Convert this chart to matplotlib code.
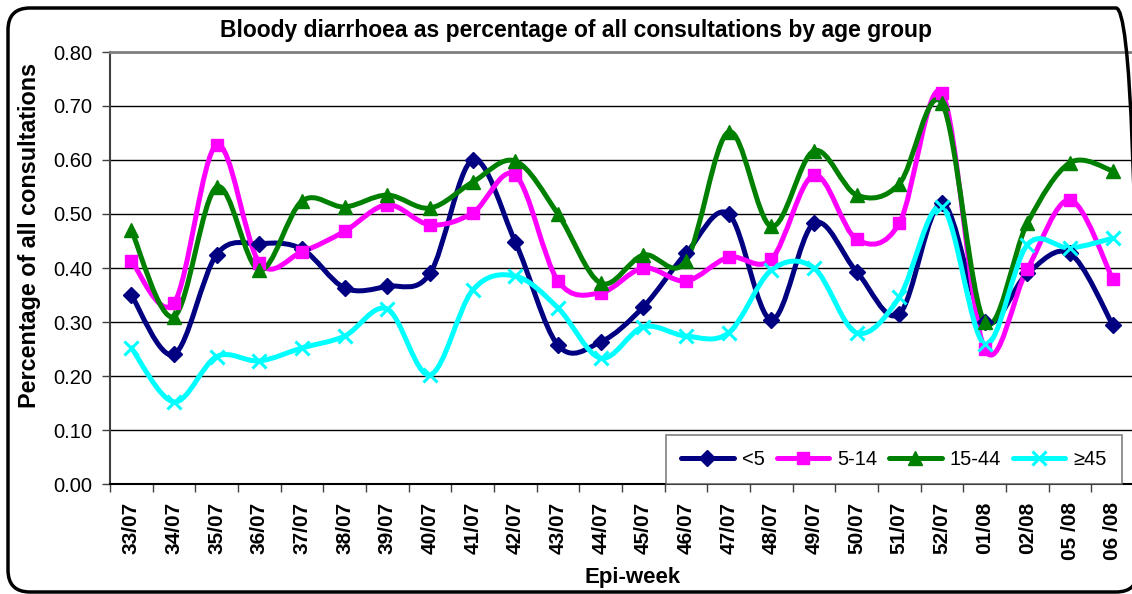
import matplotlib
matplotlib.use("Agg")
import matplotlib.pyplot as plt
from matplotlib.path import Path
from matplotlib.patches import PathPatch, FancyBboxPatch
from matplotlib.lines import Line2D
from matplotlib.transforms import IdentityTransform
from matplotlib.ticker import FixedLocator, MultipleLocator

weeks = ["33/07", "34/07", "35/07", "36/07", "37/07", "38/07", "39/07", "40/07",
         "41/07", "42/07", "43/07", "44/07", "45/07", "46/07", "47/07", "48/07",
         "49/07", "50/07", "51/07", "52/07", "01/08", "02/08", "05 /08", "06 /08"]

under5 = [0.35, 0.24, 0.425, 0.445, 0.435, 0.363, 0.366, 0.39, 0.60, 0.448, 0.257, 0.263,
          0.328, 0.427, 0.50, 0.304, 0.483, 0.393, 0.315, 0.52, 0.30, 0.39, 0.427, 0.295]
age5_14 = [0.413, 0.335, 0.628, 0.41, 0.43, 0.468, 0.517, 0.48, 0.502, 0.572, 0.376, 0.354,
           0.40, 0.376, 0.42, 0.416, 0.572, 0.453, 0.483, 0.724, 0.25, 0.398, 0.526, 0.38]
age15_44 = [0.47, 0.31, 0.55, 0.396, 0.524, 0.513, 0.535, 0.511, 0.559, 0.598, 0.50, 0.372,
            0.424, 0.413, 0.652, 0.477, 0.617, 0.535, 0.556, 0.705, 0.30, 0.483, 0.595, 0.58]
age45plus = [0.252, 0.152, 0.236, 0.228, 0.252, 0.274, 0.324, 0.202, 0.359, 0.385, 0.326, 0.233,
             0.291, 0.274, 0.28, 0.396, 0.40, 0.28, 0.346, 0.513, 0.259, 0.443, 0.437, 0.455]

series = [
    ("<5", under5, "#000080", "D", 8),
    ("5-14", age5_14, "#FF00FF", "s", 9),
    ("15-44", age15_44, "#008000", "^", 10),
    ("\u226545", age45plus, "#00FFFF", "x", 10),
]

plt.rcParams['font.family'] = ['Liberation Sans', 'DejaVu Sans']


def smooth_path(xs, ys):
    # Excel-style smoothed line: cubic Bezier through every point (Catmull-Rom tangents)
    pts = list(zip(xs, ys))
    n = len(pts)
    verts = [pts[0]]
    codes = [Path.MOVETO]
    for i in range(n - 1):
        p0 = pts[i - 1] if i > 0 else pts[i]
        p1 = pts[i]
        p2 = pts[i + 1]
        p3 = pts[i + 2] if i + 2 < n else pts[i + 1]
        c1 = (p1[0] + (p2[0] - p0[0]) / 6, p1[1] + (p2[1] - p0[1]) / 6)
        c2 = (p2[0] - (p3[0] - p1[0]) / 6, p2[1] - (p3[1] - p1[1]) / 6)
        verts += [c1, c2, p2]
        codes += [Path.CURVE4] * 3
    return Path(verts, codes)


W, H = 1132, 594
fig = plt.figure(figsize=(W / 100, H / 100), dpi=100, facecolor='white')
ax = fig.add_axes([110 / W, (H - 484) / H, 1024 / W, 432 / H])
ax.set_facecolor('white')

x = list(range(len(weeks)))
for name, vals, color, marker, ms in series:
    patch = PathPatch(smooth_path(x, vals), facecolor='none', edgecolor=color,
                      lw=3.6, capstyle='round', joinstyle='round', zorder=3)
    ax.add_patch(patch)
    mew = 2.2 if marker == 'x' else 1
    ax.plot(x, vals, linestyle='none', marker=marker, markersize=ms, color=color,
            markeredgewidth=mew, zorder=4)

ax.set_xlim(-0.5, len(weeks) - 0.5)
ax.set_ylim(0, 0.8)
ax.yaxis.set_major_locator(MultipleLocator(0.1))
ax.set_yticklabels([f"{v:.2f}" for v in ax.get_yticks()])
for v in ax.get_yticks()[1:-1]:
    ax.axhline(v, color='black', lw=1.0, zorder=1)

ax.set_xticks(x)
ax.set_xticklabels(weeks, rotation=90, fontweight='bold', fontsize=15)
ax.xaxis.set_minor_locator(FixedLocator([i - 0.5 for i in range(len(weeks) + 1)]))
ax.tick_params(axis='x', which='major', length=0, pad=13)
ax.tick_params(axis='x', which='minor', length=6, width=1, color='#404040')
ax.tick_params(axis='y', length=6, width=1, color='#404040', pad=7, labelsize=14.5)

for side in ['top', 'right']:
    ax.spines[side].set_color('#808080')
    ax.spines[side].set_linewidth(2)
ax.spines['left'].set_color('#404040')
ax.spines['left'].set_linewidth(1.5)
ax.spines['bottom'].set_color('black')
ax.spines['bottom'].set_linewidth(1.5)

fig.text(576 / W, 1 - 30 / H, "Bloody diarrhoea as percentage of all consultations by age group",
         ha='center', va='center', fontsize=16.5, fontweight='bold')
fig.text(30 / W, 1 - 235 / H, "Percentage of all consultations", rotation=90,
         ha='center', va='center', fontsize=16.8, fontweight='bold')
fig.text(633 / W, 1 - 577 / H, "Epi-week", ha='center', va='center',
         fontsize=16, fontweight='bold')

handles = [Line2D([], [], color=c, lw=3.6, marker=m, markersize=ms,
                  markeredgewidth=(2.2 if m == 'x' else 1), solid_capstyle='round')
           for _, _, c, m, ms in series]
leg = ax.legend(handles, [s[0] for s in series], loc='lower right',
                bbox_to_anchor=((1122 - 110) / 1024, 0), ncol=4, fontsize=14.5,
                handlelength=2.6, handletextpad=0.4, columnspacing=0.6,
                borderaxespad=0, frameon=True, fancybox=False, borderpad=0.75)
leg.get_frame().set_edgecolor('#606060')
leg.get_frame().set_linewidth(1.2)
leg.set_zorder(5)

border = FancyBboxPatch((8, 2), 1130, 584, boxstyle="round,pad=0,rounding_size=22",
                        facecolor='none', edgecolor='black', lw=2.5,
                        transform=IdentityTransform())
fig.patches.append(border)

fig.savefig("out.png", dpi=100, facecolor='white')
